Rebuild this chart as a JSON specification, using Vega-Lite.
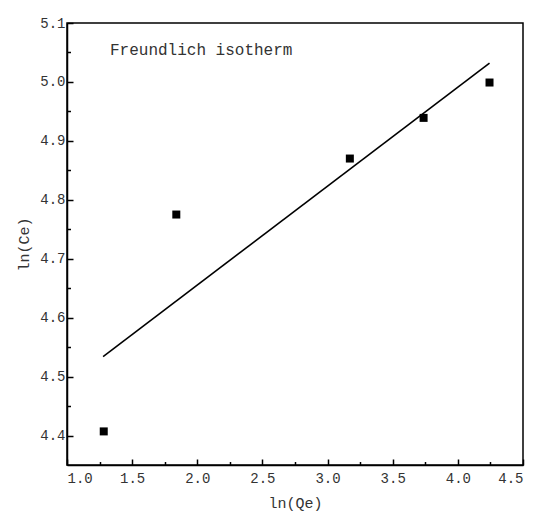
{
  "$schema": "https://vega.github.io/schema/vega-lite/v6.json",
  "width": 456,
  "height": 442,
  "autosize": "none",
  "padding": {"left": 67, "top": 23, "right": 12, "bottom": 58},
  "background": "#ffffff",
  "config": {
    "view": {"stroke": "#000000", "strokeWidth": 1.5},
    "axis": {
      "grid": false,
      "domainColor": "#000000",
      "domainWidth": 1.5,
      "tickColor": "#000000",
      "tickWidth": 1.5,
      "labelFont": "Liberation Mono",
      "labelFontSize": 14,
      "labelColor": "#333333",
      "titleFont": "Liberation Mono",
      "titleFontSize": 15,
      "titleFontWeight": "normal",
      "titleColor": "#333333"
    }
  },
  "datasets": {
    "pts": [
      {"lnQe": 1.282, "lnCe": 4.407},
      {"lnQe": 1.839, "lnCe": 4.775},
      {"lnQe": 3.171, "lnCe": 4.870},
      {"lnQe": 3.737, "lnCe": 4.939},
      {"lnQe": 4.243, "lnCe": 4.999}
    ],
    "fit": [
      {"lnQe": 1.277, "lnCe": 4.534},
      {"lnQe": 4.243, "lnCe": 5.032}
    ],
    "note": [{"label": "Freundlich isotherm"}]
  },
  "layer": [
    {
      "data": {"name": "fit"},
      "mark": {"type": "line", "color": "#000000", "strokeWidth": 1.6},
      "encoding": {
        "x": {
          "field": "lnQe", "type": "quantitative",
          "scale": {"domain": [1.0, 4.5], "nice": false, "zero": false},
          "axis": {
            "orient": "bottom",
            "title": "ln(Qe)",
            "values": [1.0, 1.5, 2.0, 2.5, 3.0, 3.5, 4.0, 4.5],
            "format": ".1f",
            "tickSize": -6,
            "labelPadding": 12,
            "titlePadding": 10
          }
        },
        "y": {
          "field": "lnCe", "type": "quantitative",
          "scale": {"domain": [4.35, 5.1], "nice": false, "zero": false},
          "axis": {
            "orient": "left",
            "title": "ln(Ce)",
            "values": [4.4, 4.5, 4.6, 4.7, 4.8, 4.9, 5.0, 5.1],
            "format": ".1f",
            "tickSize": -6,
            "labelPadding": 8,
            "titlePadding": 8
          }
        }
      }
    },
    {
      "data": {"name": "pts"},
      "mark": {"type": "square", "size": 64, "color": "#000000", "opacity": 1},
      "encoding": {
        "x": {
          "field": "lnQe", "type": "quantitative",
          "axis": {
            "orient": "bottom",
            "title": null,
            "values": [1.25, 1.75, 2.25, 2.75, 3.25, 3.75, 4.25],
            "labels": false,
            "domain": false,
            "tickSize": -3.5
          }
        },
        "y": {
          "field": "lnCe", "type": "quantitative",
          "axis": {
            "orient": "left",
            "title": null,
            "values": [4.45, 4.55, 4.65, 4.75, 4.85, 4.95, 5.05],
            "labels": false,
            "domain": false,
            "tickSize": -3.5
          }
        }
      }
    },
    {
      "data": {"name": "note"},
      "mark": {"type": "text", "font": "Liberation Mono", "fontSize": 16, "color": "#333333", "align": "left", "baseline": "alphabetic"},
      "encoding": {
        "x": {"datum": 1.33, "type": "quantitative", "axis": null},
        "y": {"datum": 5.045, "type": "quantitative", "axis": null},
        "text": {"field": "label"}
      }
    }
  ],
  "resolve": {"axis": {"x": "independent", "y": "independent"}}
}
